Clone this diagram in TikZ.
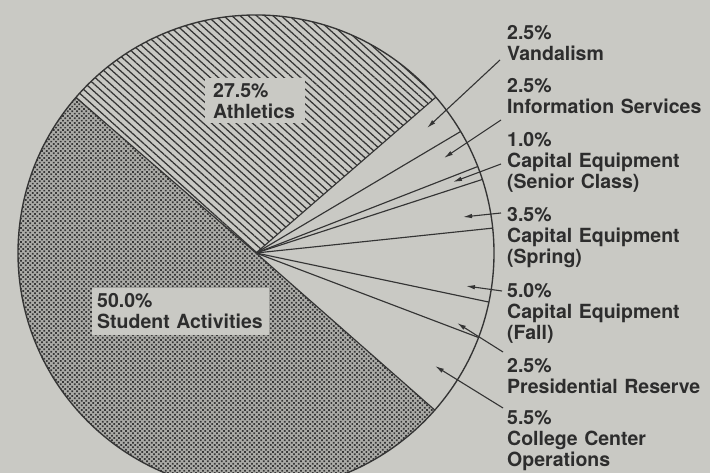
\documentclass[tikz,border=0pt]{standalone}
\usepackage{fontspec}
\setmainfont{TeX Gyre Heros}
\usetikzlibrary{patterns.meta,arrows.meta}
\definecolor{paper}{RGB}{201,201,196}
\definecolor{dotbg}{RGB}{172,172,168}
\definecolor{ink}{RGB}{52,52,52}
\definecolor{dotink}{RGB}{55,55,55}
\definecolor{txt}{RGB}{45,45,45}
\tikzset{
  lbl/.style={anchor=base west, inner sep=0pt, text width=210pt, align=left,
    text=txt, font=\fontsize{19.5}{20.7}\selectfont\bfseries},
  spoke/.style={draw=ink, line width=1.15pt},
  rim/.style={draw=ink, line width=1.35pt},
  pointer/.style={draw=ink, line width=1.1pt, -{Latex[length=9pt,width=4.5pt]}},
  hatchfill/.style={pattern={Lines[angle=-42,distance=5.5pt,line width=1.25pt]}, pattern color=ink},
  dotfill/.style={pattern={Dots[angle=45,distance=3.3pt,radius=1.2pt]}, pattern color=dotink},
}
\begin{document}
\begin{tikzpicture}[x=1pt,y=1pt]
\useasboundingbox (0,0) rectangle (710,473);
\clip (0,0) rectangle (710,473);
\fill[paper] (0,0) rectangle (710,473);
\coordinate (c) at (256,220);
% Athletics 27.5%
\path[hatchfill] (c) -- ++(40.9:238) arc[start angle=40.9,end angle=139.2,radius=238] -- cycle;
% Student Activities 50.0%
\fill[dotbg] (c) -- ++(139.2:238) arc[start angle=139.2,end angle=318.7,radius=238] -- cycle;
\path[dotfill] (c) -- ++(139.2:238) arc[start angle=139.2,end angle=318.7,radius=238] -- cycle;
% spokes
\foreach \a in {139.2,40.9,30.7,21.3,18.0,6.0,-11.9,-20.8,-41.3}
  \draw[spoke] (c) -- ++(\a:238);
\draw[rim] (c) circle[radius=238];
% label boxes inside the pie
\fill[paper] (205,395) rectangle (305,350);
\fill[paper] (92,185) rectangle (269,138);
\node[lbl] (ath) at (213,375) {27.5\%\\Athletics};
\node[lbl] (stu) at (97,165) {50.0\%\\Student Activities};
% right labels
\node[lbl] (van) at (507,433) {2.5\%\\Vandalism};
\node[lbl] (inf) at (507,380) {2.5\%\\Information Services};
\node[lbl] (sen) at (507,326) {1.0\%\\Capital Equipment\\(Senior Class)};
\node[lbl] (spr) at (507,251) {3.5\%\\Capital Equipment\\(Spring)};
\node[lbl] (fal) at (507,175) {5.0\%\\Capital Equipment\\(Fall)};
\node[lbl] (pre) at (507,100) {2.5\%\\Presidential Reserve};
\node[lbl] (col) at (507,48) {5.5\%\\College Center\\Operations};
% pointer ends
\coordinate (vanS) at (500,413); \coordinate (vanT) at (427,345);
\coordinate (infS) at (501,353); \coordinate (infT) at (444,315);
\coordinate (senS) at (501,309); \coordinate (senT) at (453,291);
\coordinate (sprS) at (501,260); \coordinate (sprT) at (463,256);
\coordinate (falS) at (502,182); \coordinate (falT) at (466,187);
\coordinate (preS) at (503,121); \coordinate (preT) at (457,150);
\coordinate (colS) at (503,65);  \coordinate (colT) at (435,107);
\draw[pointer] (vanS) -- (vanT);
\draw[pointer] (infS) -- (infT);
\draw[pointer] (senS) -- (senT);
\draw[pointer] (sprS) -- (sprT);
\draw[pointer] (falS) -- (falT);
\draw[pointer] (preS) -- (preT);
\draw[pointer] (colS) -- (colT);
\end{tikzpicture}
\end{document}
